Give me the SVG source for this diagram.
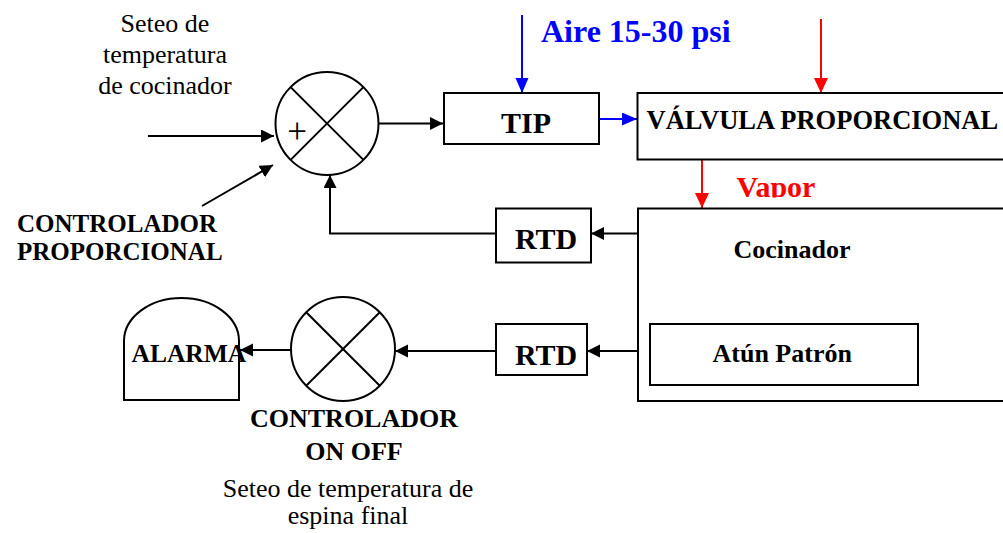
<svg xmlns="http://www.w3.org/2000/svg" width="1003" height="533" viewBox="0 0 1003 533">
<style>
.box{fill:#fff;stroke:#000;stroke-width:2}
.ln{fill:none;stroke:#000;stroke-width:2}
.b{fill:none;stroke:#0000ff;stroke-width:2}
.r{fill:none;stroke:#ff0000;stroke-width:2}
text{font-family:'Liberation Serif','Tinos','Times New Roman','DejaVu Serif',serif}
.tb{font-weight:bold;fill:#000}
.tr{fill:#000}
</style>
<defs>
<marker id="ak" markerUnits="userSpaceOnUse" markerWidth="14" markerHeight="14" refX="13" refY="6.5" orient="auto"><path d="M0,0 L13,6.5 L0,13 Z" fill="#000"/></marker>
<marker id="ab" markerUnits="userSpaceOnUse" markerWidth="16" markerHeight="14" refX="15" refY="6.5" orient="auto"><path d="M0,0 L15,6.5 L0,13 Z" fill="#0000ff"/></marker>
<marker id="ar" markerUnits="userSpaceOnUse" markerWidth="16" markerHeight="15" refX="15" refY="7" orient="auto"><path d="M0,0 L15,7 L0,14 Z" fill="#ff0000"/></marker>
<clipPath id="vclip"><rect x="700" y="150" width="200" height="47.5"/></clipPath>
</defs>
<rect width="1003" height="533" fill="#fff"/>

<g id="connectors">
<line class="ln" x1="148" y1="136" x2="274" y2="136" marker-end="url(#ak)"/>
<line class="ln" x1="202" y1="206" x2="273" y2="165" marker-end="url(#ak)"/>
<line class="ln" x1="378" y1="123.5" x2="443" y2="123.5" marker-end="url(#ak)"/>
<polyline class="ln" points="496,233.5 330,233.5 330,175" marker-end="url(#ak)"/>
<line class="b" x1="522" y1="15" x2="522" y2="93" marker-end="url(#ab)"/>
<line class="b" x1="599" y1="119" x2="637" y2="119" marker-end="url(#ab)"/>
<line class="r" x1="821" y1="19" x2="821" y2="93" marker-end="url(#ar)"/>
<line class="r" x1="702" y1="154" x2="702" y2="208" marker-end="url(#ar)"/>
<line class="ln" x1="638" y1="233.5" x2="591" y2="233.5" marker-end="url(#ak)"/>
<line class="ln" x1="650" y1="351" x2="587" y2="351" marker-end="url(#ak)"/>
<line class="ln" x1="496" y1="351" x2="395" y2="351" marker-end="url(#ak)"/>
<line class="ln" x1="291" y1="350" x2="240" y2="350" marker-end="url(#ak)"/>
</g>

<g id="setpoint-label">
<text class="tr" font-size="26" text-anchor="middle" x="165" y="32">Seteo de</text>
<text class="tr" font-size="26" text-anchor="middle" x="165" y="63">temperatura</text>
<text class="tr" font-size="26" text-anchor="middle" x="165" y="94">de cocinador</text>
</g>

<g id="sum-junction">
<circle class="box" cx="327" cy="123.5" r="51.5"/>
<line class="ln" x1="290.6" y1="87.1" x2="363.4" y2="159.9"/>
<line class="ln" x1="363.4" y1="87.1" x2="290.6" y2="159.9"/>
<text class="tr" font-size="35" text-anchor="middle" x="297" y="143">+</text>
</g>

<g id="controlador-proporcional">
<text class="tb" font-size="25" x="17" y="232">CONTROLADOR</text>
<text class="tb" font-size="25" x="17" y="260">PROPORCIONAL</text>
</g>

<g id="aire-label">
<text class="tb" font-size="32" x="541" y="42" style="fill:#0000ff">Aire 15-30 psi</text>
</g>

<g id="tip">
<rect class="box" x="444" y="93" width="155" height="51"/>
<text class="tb" font-size="30" x="501" y="133">TIP</text>
</g>

<g id="valvula">
<rect class="box" x="637.5" y="93" width="380" height="66.5"/>
<text class="tb" font-size="26.5" x="646.5" y="128.5">VÁLVULA PROPORCIONAL</text>
</g>

<g id="vapor-label">
<text class="tb" font-size="30" x="736.5" y="197" clip-path="url(#vclip)" style="fill:#ff0000">Vapor</text>
</g>

<g id="cocinador">
<rect class="box" x="638" y="208.5" width="380" height="192.5"/>
<text class="tb" font-size="26" x="733.5" y="257.5">Cocinador</text>
</g>

<g id="atun-patron">
<rect class="box" x="650" y="324" width="268" height="61"/>
<text class="tb" font-size="26" x="712.5" y="362">Atún Patrón</text>
</g>

<g id="rtd-1">
<rect class="box" x="496" y="208.5" width="95" height="54"/>
<text class="tb" font-size="30" x="515" y="249">RTD</text>
</g>

<g id="rtd-2">
<rect class="box" x="496" y="324" width="91" height="51"/>
<text class="tb" font-size="30" x="515" y="364.5">RTD</text>
</g>

<g id="on-off-junction">
<circle class="box" cx="343" cy="349" r="52"/>
<line class="ln" x1="306.2" y1="312.2" x2="379.8" y2="385.8"/>
<line class="ln" x1="379.8" y1="312.2" x2="306.2" y2="385.8"/>
</g>

<g id="alarma">
<path class="box" d="M124,400 V341 A57.5,43 0 0 1 239,341 V400 Z"/>
<text class="tb" font-size="25.5" x="131.5" y="362">ALARMA</text>
</g>

<g id="controlador-on-off">
<text class="tb" font-size="26" text-anchor="middle" x="354" y="427">CONTROLADOR</text>
<text class="tb" font-size="26" text-anchor="middle" x="354" y="460">ON OFF</text>
<text class="tr" font-size="26" text-anchor="middle" x="348" y="496.5">Seteo de temperatura de</text>
<text class="tr" font-size="26" text-anchor="middle" x="348" y="524">espina final</text>
</g>
</svg>
